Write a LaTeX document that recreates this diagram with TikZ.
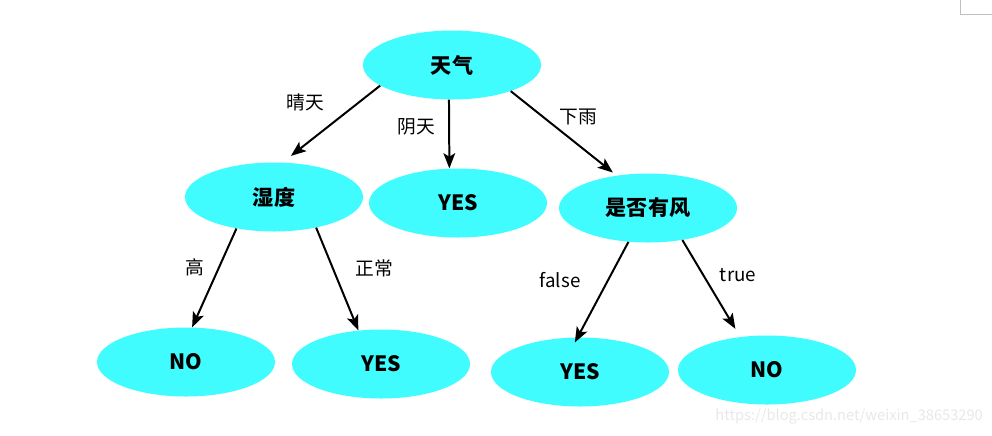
\documentclass[tikz,border=0pt]{standalone}
\usepackage{fontspec}
\setmainfont{Noto Sans CJK SC}
\usetikzlibrary{arrows.meta,shapes.geometric}
\definecolor{nodecyan}{RGB}{64,252,255}
\definecolor{markgray}{RGB}{232,232,232}

\tikzset{
  leaf/.style={ellipse, fill=nodecyan, minimum width=5.34cm, minimum height=2.07cm,
    font=\fontsize{18}{20}\selectfont\bfseries, inner sep=0pt},
  arr/.style={line width=1.7pt, -{Stealth[length=13pt,width=10pt,inset=3pt]}},
  lbl/.style={font=\fontsize{16}{18}\selectfont}
}

\begin{document}
\begin{tikzpicture}[x=0.03cm, y=-0.03cm]
  \useasboundingbox (0,0) rectangle (992,435);
  % corner mark and watermark
  \draw[gray!50, line width=0.6pt] (960,0) -- (960,14) -- (992,14);
  \node[markgray, anchor=east, inner sep=0pt, font=\fontsize{12.5}{14}\selectfont] (mark) at (983,416) {https://blog.csdn.net/weixin\_38653290};
  % nodes
  \node[leaf] (weather) at (452,65) {天气};
  \node[leaf] (humid) at (274,197) {湿度};
  \node[leaf] (yesA) at (458,203) {YES};
  \node[leaf] (windy) at (648,208) {是否有风};
  \node[leaf] (noA) at (186,362) {NO};
  \node[leaf] (yesB) at (381,364) {YES};
  \node[leaf] (yesC) at (580,372) {YES};
  \node[leaf] (noB) at (767,370) {NO};
  % connectors
  \draw[arr, shorten >=9pt] (weather.196) -- (humid.76);
  \draw[arr] (weather.265) -- (yesA.104);
  \draw[arr, shorten >=4pt] (weather.336) -- (windy.134);
  \draw[arr] (humid.220) -- (noA.80);
  \draw[arr] (humid.324) -- (yesB.124);
  \draw[arr, shorten >=-5pt] (windy.240) -- (yesC.94);
  \draw[arr, shorten >=8pt] (windy.317) -- (noB.129);
  % labels
  \node[lbl] (sunny) at (305,102) {晴天};
  \node[lbl] (cloudy) at (416,127) {阴天};
  \node[lbl] (rainy) at (578,117) {下雨};
  \node[lbl] (high) at (195,267) {高};
  \node[lbl] (normal) at (374,268) {正常};
  \node[lbl] (false) at (560,280) {false};
  \node[lbl] (true) at (738,275) {true};
\end{tikzpicture}
\end{document}
